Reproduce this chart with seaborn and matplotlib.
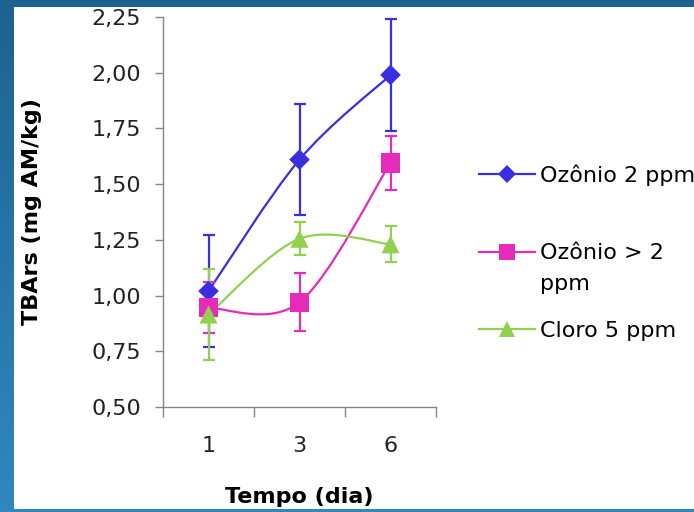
import numpy as np
import pandas as pd
import matplotlib
matplotlib.use("Agg")
import matplotlib.pyplot as plt
import seaborn as sns
from matplotlib.path import Path
from matplotlib.patches import PathPatch, Rectangle
from matplotlib.lines import Line2D
from matplotlib.ticker import FixedLocator, NullFormatter, FixedFormatter

# --- data -------------------------------------------------------------
dias = ["1", "3", "6"]
series = ["Ozônio 2 ppm", "Ozônio > 2 ppm", "Cloro 5 ppm"]
ozonio_2 = [1.02, 1.61, 1.99]
ozonio_2_err = [0.25, 0.25, 0.25]
ozonio_mais_2 = [0.945, 0.97, 1.595]
ozonio_mais_2_err = [0.115, 0.13, 0.12]
cloro_5 = [0.915, 1.255, 1.23]
cloro_5_err = [0.205, 0.075, 0.08]
y_ticks = [0.50, 0.75, 1.00, 1.25, 1.50, 1.75, 2.00, 2.25]

valores = [ozonio_2, ozonio_mais_2, cloro_5]
erros = [ozonio_2_err, ozonio_mais_2_err, cloro_5_err]
cores = ["#3b2ee0", "#e62bbb", "#92d050"]
marcadores = ["D", "s", "^"]
tamanhos = [110, 190, 170]

pos = np.arange(len(dias))
df = pd.DataFrame({
    "pos": np.tile(pos, len(series)),
    "valor": np.concatenate(valores),
    "erro": np.concatenate(erros),
    "serie": np.repeat(series, len(dias)),
})

plt.rcParams["font.family"] = ["DejaVu Sans"]
FS = 16

fig = plt.figure(figsize=(6.94, 5.12), dpi=100)

# blue slide background with white panel
bg = fig.add_axes([0, 0, 1, 1], zorder=-10)
grad = np.linspace(0, 1, 256).reshape(-1, 1)
cmap = matplotlib.colors.LinearSegmentedColormap.from_list("bg", ["#1e6290", "#3088bf"])
bg.imshow(grad, aspect="auto", cmap=cmap, extent=[0, 1, 0, 1], origin="upper")
bg.add_patch(Rectangle((14 / 694, 3 / 512), 1 - 14 / 694, (512 - 7 - 3) / 512,
                       facecolor="white", edgecolor="none"))
bg.set_xlim(0, 1)
bg.set_ylim(0, 1)
bg.axis("off")

ax = fig.add_axes([163 / 694, (512 - 407) / 512, (436 - 163) / 694, (407 - 17) / 512])
ax.set_facecolor("none")


def bezier_suave(xs, ys):
    """Smoothed line through the points (cardinal spline as cubic Bezier)."""
    pts = np.column_stack([xs, ys]).astype(float)
    n = len(pts)
    verts = [pts[0]]
    codes = [Path.MOVETO]
    for i in range(n - 1):
        p0 = pts[max(i - 1, 0)]
        p1 = pts[i]
        p2 = pts[i + 1]
        p3 = pts[min(i + 2, n - 1)]
        c1 = p1 + (p2 - p0) / 6.0
        c2 = p2 - (p3 - p1) / 6.0
        verts += [c1, c2, p2]
        codes += [Path.CURVE4] * 3
    return Path(verts, codes)


for nome, v, e, cor in zip(series, valores, erros, cores):
    ax.add_patch(PathPatch(bezier_suave(pos, v), facecolor="none", edgecolor=cor,
                           lw=1.6, zorder=3))
    ax.errorbar(pos, v, yerr=e, fmt="none", ecolor=cor, elinewidth=1.6,
                capsize=4, capthick=1.6, zorder=4)

sns.scatterplot(data=df, x="pos", y="valor", hue="serie", style="serie",
                palette=dict(zip(series, cores)),
                markers=dict(zip(series, marcadores)),
                size="serie", sizes=dict(zip(series, tamanhos)),
                edgecolor="none", linewidth=0, legend=False, ax=ax, zorder=5)

ax.set_xlim(-0.5, len(dias) - 0.5)
ax.set_ylim(0.5, 2.25)
ax.set_yticks(y_ticks)
ax.set_yticklabels([f"{t:.2f}".replace(".", ",") for t in y_ticks], fontsize=FS,
                   color="#222222")

# category boundaries carry the tick marks, labels sit at the centres
ax.xaxis.set_major_locator(FixedLocator(np.arange(-0.5, len(dias), 1.0)))
ax.xaxis.set_major_formatter(NullFormatter())
ax.xaxis.set_minor_locator(FixedLocator(pos))
ax.xaxis.set_minor_formatter(FixedFormatter(dias))
ax.tick_params(axis="x", which="major", length=7, width=1, color="#868686", direction="out")
ax.tick_params(axis="x", which="minor", length=0, labelsize=FS, labelcolor="#222222", pad=21)
ax.tick_params(axis="y", length=6, width=1, color="#868686", direction="out", pad=10)

for s in ["top", "right"]:
    ax.spines[s].set_visible(False)
for s in ["left", "bottom"]:
    ax.spines[s].set_color("#868686")
    ax.spines[s].set_linewidth(1)

ax.set_xlabel("Tempo (dia)", fontsize=FS, fontweight="bold", labelpad=22)
ax.set_ylabel("TBArs (mg AM/kg)", fontsize=FS, fontweight="bold", labelpad=35)

# legend: the long label wraps onto a second line below its first line
rotulos = [s.replace("> 2 ppm", "> 2") for s in series]
handles = [Line2D([], [], color=c, lw=1.6, marker=m, markersize=ms, markeredgewidth=0)
           for c, m, ms in zip(cores, marcadores, [9, 11, 11])]
leg = fig.legend(handles, rotulos, loc="upper left",
                 bbox_to_anchor=(479 / 694, (512 - 164) / 512),
                 frameon=False, fontsize=FS, handlelength=2.5, handletextpad=0.25,
                 labelspacing=2.6, borderpad=0, borderaxespad=0)
fig.canvas.draw()
r = fig.canvas.get_renderer()
bb = leg.get_texts()[1].get_window_extent(r)
fig.text(bb.x0 / fig.bbox.width, (bb.y0 - 31) / fig.bbox.height, "ppm",
         fontsize=FS, ha="left", va="bottom")

fig.savefig("out.png", dpi=100)
